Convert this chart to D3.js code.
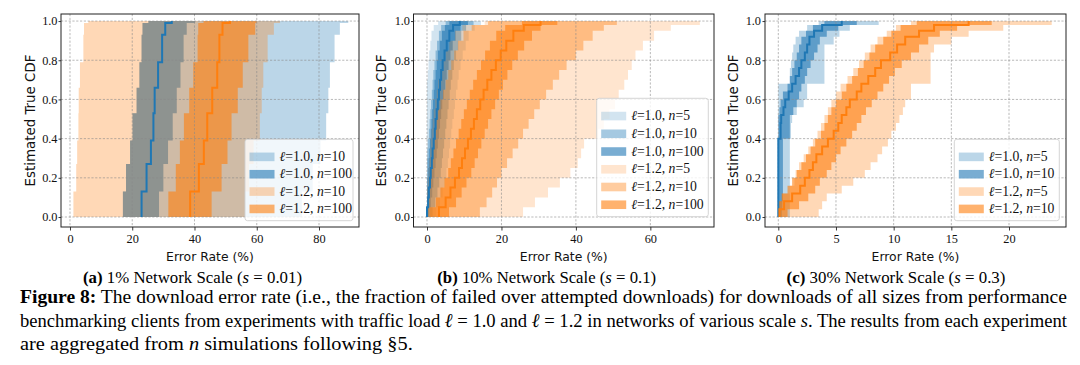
<!DOCTYPE html>
<html><head><meta charset="utf-8">
<script src="https://cdn.jsdelivr.net/npm/d3@7"></script>
<style>
body{margin:0;background:#fff;}
svg{display:block;}
</style></head><body>
<svg id="chart" width="1080" height="365"></svg>
<script>
// ================= DATA =================
const loads = ["1.0", "1.2"];
const xTicksA = [0, 20, 40, 60, 80];
const xTicksB = [0, 20, 40, 60];
const xTicksC = [0, 5, 10, 15, 20];
const yTicks = [0, 0.2, 0.4, 0.6, 0.8, 1.0];
const countsA = ["10", "100"];
const countsB = ["5", "10", "100"];
const countsC = ["5", "10"];

// ---- panel (a): 1% scale ----
const aLevels     = [0, 0.13, 0.27, 0.39, 0.53, 0.66, 0.79, 0.93, 0.99, 1.0];
const aBlue10Lo   = [17.0, 18.0, 19.3, 20.1, 21.4, 22.3, 23.0, 23.3, 25.2];
const aBlue10Hi   = [74.5, 78.0, 80.5, 82.3, 83.0, 83.5, 85.0, 86.7, 89.4];
const aBlue100Lo  = [17.0, 18.0, 19.3, 20.1, 21.4, 22.3, 23.0, 23.3, 25.2];
const aBlue100Hi  = [28.6, 30.0, 31.5, 33.0, 34.3, 35.5, 36.5, 37.5, 40.2];
const aBlueMid    = [23.0, 24.6, 26.0, 26.8, 27.2, 28.3, 29.6, 30.6, 32.7];
const aOrange10Lo = [1.1, 2.0, 2.3, 2.7, 2.8, 3.2, 4.3, 4.5, 5.9];
const aOrange10Hi = [56.2, 57.5, 59.0, 61.0, 61.6, 62.1, 63.5, 65.5, 67.5];
const aOrange100Lo= [31.6, 34.0, 35.3, 36.6, 38.3, 39.6, 41.0, 41.2, 42.9];
const aOrange100Hi= [45.5, 48.7, 50.6, 51.9, 53.9, 55.5, 57.3, 59.5, 60.0];
const aOrangeMid  = [38.6, 41.4, 43.0, 44.1, 45.7, 47.3, 48.0, 49.0, 51.4];

// ---- panel (b): 10% scale ----
const bLevels     = [0, 0.05, 0.1, 0.15, 0.2, 0.25, 0.3, 0.35, 0.4, 0.45, 0.5, 0.55, 0.6, 0.65, 0.7, 0.75, 0.8, 0.85, 0.9, 0.95, 0.98, 1.0];
const bBlue5Lo    = [0, 0, 0, 0, 0, 0, 0, 0, 0, 0, 0, 0, 0, 0, 0.2, 0.4, 0.6, 0.9, 1.2, 1.8, 3.0];
const bBlue5Hi    = [2.5, 3.5, 4.2, 4.8, 5.2, 5.6, 5.9, 6.2, 6.5, 6.8, 7.2, 7.5, 7.8, 8.2, 8.5, 9.0, 9.6, 10.4, 11.2, 12.8, 14.5];
const bBlue10Lo   = [0, 0, 0, 0, 0, 0, 0.1, 0.3, 0.5, 0.7, 0.9, 1.1, 1.3, 1.5, 1.7, 2.0, 2.3, 2.7, 3.2, 3.8, 5.0];
const bBlue10Hi   = [1.5, 2.2, 2.8, 3.3, 3.7, 4.0, 4.3, 4.6, 4.9, 5.2, 5.5, 5.8, 6.1, 6.4, 6.8, 7.2, 7.8, 8.4, 9.2, 10.5, 12.5];
const bBlue100Lo  = [0, 0, 0, 0.1, 0.3, 0.4, 0.6, 0.8, 1.0, 1.2, 1.4, 1.6, 1.8, 2.0, 2.3, 2.6, 2.9, 3.4, 4.0, 4.8, 6.0];
const bBlue100Hi  = [0.6, 1.0, 1.4, 1.7, 2.0, 2.3, 2.6, 2.9, 3.2, 3.5, 3.8, 4.1, 4.5, 4.9, 5.3, 5.8, 6.3, 6.9, 7.7, 9.0, 11.0];
const bBlueMid    = [0, 0.3, 0.5, 0.8, 1.0, 1.3, 1.5, 1.8, 2.1, 2.3, 2.6, 2.9, 3.2, 3.5, 3.8, 4.2, 4.7, 5.3, 6.0, 7.0, 8.8];
const bOrange5Lo  = [0, 0, 0, 0.2, 0.4, 0.6, 0.8, 1.0, 1.2, 1.5, 1.8, 2.2, 2.6, 3.0, 3.6, 4.2, 5.0, 6.0, 7.5, 9.5, 15.5];
const bOrange5Hi  = [25.8, 29.0, 32.5, 35.7, 38.5, 40.5, 41.4, 42.2, 46.0, 47.5, 49.0, 50.5, 51.5, 53.0, 54.0, 55.0, 56.0, 58.0, 61.0, 65.5, 73.3];
const bOrange10Lo = [0, 0.2, 0.4, 0.6, 0.8, 1.0, 1.3, 1.6, 2.0, 2.5, 3.0, 3.6, 4.3, 5.0, 5.7, 6.5, 7.3, 8.3, 9.8, 12.0, 16.4];
const bOrange10Hi = [14.2, 16.0, 17.5, 18.8, 20.0, 21.5, 23.0, 24.5, 25.8, 27.3, 28.8, 30.3, 32.0, 33.8, 35.5, 37.5, 40.0, 42.0, 44.5, 47.5, 51.0];
const bOrange100Lo= [0.7, 2.4, 3.6, 4.7, 5.7, 6.4, 7.1, 7.8, 8.5, 9.2, 9.9, 10.7, 11.5, 12.4, 13.4, 14.5, 15.6, 16.9, 18.6, 21.0, 25.5];
const bOrange100Hi= [5.9, 7.8, 9.3, 10.6, 11.9, 12.8, 13.7, 14.6, 15.5, 16.4, 17.3, 18.3, 19.3, 20.4, 21.6, 22.9, 24.4, 26.1, 28.2, 30.5, 35.0];
const bOrangeMid  = [3.2, 5.0, 6.3, 7.5, 8.6, 9.4, 10.2, 11.0, 11.8, 12.6, 13.4, 14.3, 15.2, 16.2, 17.3, 18.5, 19.8, 21.3, 23.2, 26.0, 30.5];

// ---- panel (c): 30% scale ----
const cLevels     = [0, 0.04, 0.08, 0.12, 0.16, 0.2, 0.24, 0.28, 0.32, 0.36, 0.4, 0.44, 0.48, 0.52, 0.56, 0.6, 0.64, 0.68, 0.72, 0.76, 0.8, 0.84, 0.88, 0.92, 0.95, 0.98, 1.0];
const cBlue5Lo    = [0, 0, 0, 0, 0, 0, 0, 0, 0, 0, 0, 0, 0, 0, 0, 0, 0, 1.0, 1.0, 1.1, 1.2, 1.3, 1.5, 1.8, 2.5, 3.5];
const cBlue5Hi    = [1.0, 1.0, 1.0, 1.0, 1.0, 1.0, 1.0, 1.0, 1.0, 1.0, 1.1, 1.1, 1.2, 1.6, 2.2, 2.5, 2.5, 4.0, 4.0, 4.0, 4.0, 4.0, 4.8, 5.3, 6.2, 8.7];
const cBlue10Lo   = [0, 0, 0, 0, 0, 0, 0, 0, 0, 0, 0, 0, 0, 0.1, 0.2, 0.4, 0.8, 1.0, 1.2, 1.4, 1.6, 1.8, 2.0, 2.4, 3.0, 4.0];
const cBlue10Hi   = [0.3, 0.35, 0.4, 0.4, 0.4, 0.4, 0.4, 0.4, 0.4, 0.4, 1.0, 1.0, 1.0, 1.3, 1.6, 1.8, 2.0, 2.3, 2.5, 2.8, 3.1, 3.4, 3.6, 4.2, 5.2, 6.8];
const cBlueMid    = [0, 0, 0, 0, 0, 0, 0, 0, 0, 0, 0.2, 0.2, 0.25, 0.45, 0.6, 0.9, 1.2, 1.5, 1.8, 2.0, 2.3, 2.5, 2.7, 3.1, 3.8, 5.5];
const cOrange5Lo  = [0, 0, 0.3, 1.0, 1.4, 1.5, 1.8, 2.2, 2.6, 3.0, 3.4, 3.7, 4.0, 4.3, 4.6, 5.0, 5.4, 6.0, 6.5, 7.0, 7.5, 8.0, 8.6, 9.4, 10.2, 11.5];
const cOrange5Hi  = [3.5, 3.8, 4.2, 5.5, 6.5, 7.5, 8.0, 8.6, 9.0, 9.5, 9.8, 10.2, 10.5, 10.8, 11.0, 11.5, 11.5, 13.2, 13.2, 13.2, 13.2, 13.5, 15.0, 16.5, 19.5, 23.7];
const cOrange10Lo = [0, 0, 0.3, 0.8, 1.2, 1.6, 2.0, 2.4, 2.8, 3.2, 3.7, 4.0, 4.3, 4.6, 5.0, 5.5, 5.9, 6.4, 6.9, 7.4, 7.9, 8.4, 9.1, 9.8, 10.6, 12.0];
const cOrange10Hi = [0.8, 1.8, 2.6, 3.2, 3.6, 4.2, 4.6, 5.0, 5.4, 5.9, 6.4, 6.8, 7.2, 7.6, 8.1, 8.6, 9.1, 9.6, 10.1, 10.7, 11.5, 12.2, 13.0, 14.0, 15.5, 18.5];
const cOrangeMid  = [0.1, 0.5, 1.2, 1.9, 2.3, 2.7, 3.0, 3.3, 3.8, 4.3, 4.8, 5.2, 5.5, 5.9, 6.2, 6.8, 7.2, 7.8, 8.4, 8.9, 9.7, 10.3, 11.0, 12.2, 13.5, 16.5];

// text
const subcaptions = [
  {tag: "(a)", pct: "1%", s: "0.01"},
  {tag: "(b)", pct: "10%", s: "0.1"},
  {tag: "(c)", pct: "30%", s: "0.3"}
];

// ================= DRAWING =================
const BLUE = "#1f77b4", ORANGE = "#ff7f0e";
const colors = [BLUE, ORANGE];
const SERIF = "Liberation Serif, Times New Roman, Times, DejaVu Serif, serif";
const SANS = "DejaVu Sans, sans-serif";
const svg = d3.select("#chart");

const panels = [
  {left: 61, right: 359, top: 14, bottom: 227, xdom: [-2.89, 92.85], xticks: xTicksA, levels: aLevels,
   bands: [
     {load: 0, n: countsA[0], lo: aBlue10Lo, hi: aBlue10Hi, alpha: 0.3},
     {load: 0, n: countsA[1], lo: aBlue100Lo, hi: aBlue100Hi, alpha: 0.6},
     {load: 1, n: countsA[0], lo: aOrange10Lo, hi: aOrange10Hi, alpha: 0.3},
     {load: 1, n: countsA[1], lo: aOrange100Lo, hi: aOrange100Hi, alpha: 0.6}],
   lines: [{load: 0, mid: aBlueMid}, {load: 1, mid: aOrangeMid}],
   legend: {x: 245, y: 139.3, w: 108, h: 81.4}, ylabX: 30, tickLabRight: 57.5, subX: 192.5},
  {left: 413.5, right: 714, top: 14, bottom: 227, xdom: [-3.63, 77.1], xticks: xTicksB, levels: bLevels,
   bands: [
     {load: 0, n: countsB[0], lo: bBlue5Lo, hi: bBlue5Hi, alpha: 0.2},
     {load: 0, n: countsB[1], lo: bBlue10Lo, hi: bBlue10Hi, alpha: 0.4},
     {load: 0, n: countsB[2], lo: bBlue100Lo, hi: bBlue100Hi, alpha: 0.6},
     {load: 1, n: countsB[0], lo: bOrange5Lo, hi: bOrange5Hi, alpha: 0.2},
     {load: 1, n: countsB[1], lo: bOrange10Lo, hi: bOrange10Hi, alpha: 0.4},
     {load: 1, n: countsB[2], lo: bOrange100Lo, hi: bOrange100Hi, alpha: 0.6}],
   lines: [{load: 0, mid: bBlueMid}, {load: 1, mid: bOrangeMid}],
   legend: {x: 596.7, y: 98.3, w: 111.6, h: 118.4}, ylabX: 381.7, tickLabRight: 410, subX: 546.7},
  {left: 765, right: 1066, top: 14, bottom: 227, xdom: [-1.153, 24.94], xticks: xTicksC, levels: cLevels,
   bands: [
     {load: 0, n: countsC[0], lo: cBlue5Lo, hi: cBlue5Hi, alpha: 0.3},
     {load: 0, n: countsC[1], lo: cBlue10Lo, hi: cBlue10Hi, alpha: 0.6},
     {load: 1, n: countsC[0], lo: cOrange5Lo, hi: cOrange5Hi, alpha: 0.3},
     {load: 1, n: countsC[1], lo: cOrange10Lo, hi: cOrange10Hi, alpha: 0.6}],
   lines: [{load: 0, mid: cBlueMid}, {load: 1, mid: cOrangeMid}],
   legend: {x: 954.3, y: 139.3, w: 105, h: 81.4}, ylabX: 733.3, tickLabRight: 761, subX: 896}
];

function stepBand(levels, lo, hi) {
  const pts = [];
  for (let i = 0; i < levels.length - 1; i++) {
    pts.push({c: levels[i], lo: lo[i], hi: hi[i]});
    pts.push({c: levels[i + 1], lo: lo[i], hi: hi[i]});
  }
  return pts;
}
function stepLine(levels, mid) {
  const pts = [];
  for (let i = 0; i < levels.length - 1; i++) {
    pts.push({c: levels[i], v: mid[i]});
    pts.push({c: levels[i + 1], v: mid[i]});
  }
  return pts;
}

function addLegendLabel(sel, load, n) {
  sel.append("tspan").attr("font-style", "italic").text("ℓ");
  sel.append("tspan").text("=" + load + ", ");
  sel.append("tspan").attr("font-style", "italic").text("n");
  sel.append("tspan").text("=" + n);
}

panels.forEach((p, pi) => {
  const g = svg.append("g");
  const x = d3.scaleLinear().domain(p.xdom).range([p.left, p.right]);
  const y = d3.scaleLinear().domain([-0.051, 1.036]).range([p.bottom, p.top]);
  const clipId = "clip" + pi;
  svg.append("clipPath").attr("id", clipId).append("rect")
    .attr("x", p.left).attr("y", p.top).attr("width", p.right - p.left).attr("height", p.bottom - p.top);

  const plot = g.append("g").attr("clip-path", `url(#${clipId})`);
  const area = d3.area().y(d => y(d.c)).x0(d => x(d.lo)).x1(d => x(d.hi));
  p.bands.forEach(b => {
    plot.append("path").attr("d", area(stepBand(p.levels, b.lo, b.hi)))
      .attr("fill", colors[b.load]).attr("fill-opacity", b.alpha).attr("stroke", "none");
  });

  // grid
  const grid = plot.append("g").attr("stroke", "#8a8a8a").attr("stroke-width", 0.6)
    .attr("stroke-dasharray", "2.2,1.6");
  p.xticks.forEach(t => grid.append("line").attr("x1", x(t)).attr("x2", x(t)).attr("y1", p.top).attr("y2", p.bottom));
  yTicks.forEach(t => grid.append("line").attr("x1", p.left).attr("x2", p.right).attr("y1", y(t)).attr("y2", y(t)));

  // lines
  const line = d3.line().x(d => x(d.v)).y(d => y(d.c));
  p.lines.forEach(l => {
    plot.append("path").attr("d", line(stepLine(p.levels, l.mid)))
      .attr("fill", "none").attr("stroke", colors[l.load]).attr("stroke-width", 2)
      .attr("stroke-linejoin", "miter");
  });

  // axes
  const xAxis = d3.axisBottom(x).tickValues(p.xticks).tickSize(3.5).tickPadding(4).tickFormat(d3.format("d"));
  const gx = g.append("g").attr("transform", `translate(0,${p.bottom})`).call(xAxis);
  const yAxis = d3.axisLeft(y).tickValues(yTicks).tickSize(2.5).tickPadding(Math.max(0.5, p.left - p.tickLabRight - 2.5)).tickFormat(d3.format(".1f"));
  const gy = g.append("g").attr("transform", `translate(${p.left},0)`).call(yAxis);
  [gx, gy].forEach(a => {
    a.select(".domain").remove();
    a.selectAll(".tick line").attr("stroke", "#222").attr("stroke-width", 0.9);
    a.selectAll(".tick text").attr("font-family", SERIF).attr("font-size", 12.3).attr("fill", "#111");
  });
  g.append("rect").attr("x", p.left).attr("y", p.top).attr("width", p.right - p.left).attr("height", p.bottom - p.top)
    .attr("fill", "none").attr("stroke", "#222").attr("stroke-width", 1);

  // axis labels
  const xl = g.append("text").attr("x", (p.left + p.right) / 2).attr("y", 261).attr("text-anchor", "middle")
    .attr("font-family", SANS).attr("font-size", 12.5).attr("fill", "#111").text("Error Rate (%)");
  xl.attr("font-size", 12.5 * 88 / xl.node().getComputedTextLength());
  const yl = g.append("text").attr("transform", `translate(${p.ylabX},${(p.top + p.bottom) / 2}) rotate(-90)`)
    .attr("text-anchor", "middle").attr("dy", "0.35em")
    .attr("font-family", SANS).attr("font-size", 12.5).attr("fill", "#111").text("Estimated True CDF");
  yl.attr("font-size", 12.5 * 132 / yl.node().getComputedTextLength());

  // legend
  const L = p.legend;
  const lg = g.append("g");
  lg.append("rect").attr("x", L.x).attr("y", L.y).attr("width", L.w).attr("height", L.h).attr("rx", 2.5)
    .attr("fill", "#fff").attr("fill-opacity", 0.8).attr("stroke", "#d0d0d0").attr("stroke-width", 0.9);
  const step = (L.h - 12) / p.bands.length;
  const probe = lg.append("text").attr("font-family", SERIF).attr("font-size", 12);
  addLegendLabel(probe, loads[0], "10");
  const lfs = 12 * 65.7 / probe.node().getComputedTextLength();
  probe.remove();
  p.bands.forEach((b, i) => {
    const cy = L.y + 9.2 + step * (i + 0.5) - 0.3;
    lg.append("rect").attr("x", L.x + 4.5).attr("y", cy - 4.3).attr("width", 25).attr("height", 8.6)
      .attr("fill", colors[b.load]).attr("fill-opacity", b.alpha);
    const t = lg.append("text").attr("x", L.x + 34.5).attr("y", cy + 4)
      .attr("font-family", SERIF).attr("font-size", lfs).attr("fill", "#111");
    addLegendLabel(t, loads[b.load], b.n);
  });

  // subcaption
  const sc = subcaptions[pi];
  const st = svg.append("text").attr("x", p.subX).attr("y", 282.5).attr("text-anchor", "middle")
    .attr("font-family", SERIF).attr("font-size", 15).attr("fill", "#000");
  st.append("tspan").attr("font-weight", "bold").text(sc.tag);
  st.append("tspan").text(" " + sc.pct + " Network Scale (");
  st.append("tspan").attr("font-style", "italic").text("s");
  st.append("tspan").text(" = " + sc.s + ")");
  st.attr("font-size", 15 * 219 / st.node().getComputedTextLength());
});

// caption
const capLines = [
  {y: 303, target: 1048, parts: [["Figure 8:", "bold"], [" The download error rate (i.e., the fraction of failed over attempted downloads) for downloads of all sizes from performance", ""]]},
  {y: 326.5, target: 1048, parts: [["benchmarking clients from experiments with traffic load ", ""], ["ℓ", "italic"], [" = 1.0 and ", ""], ["ℓ", "italic"], [" = 1.2 in networks of various scale ", ""], ["s", "italic"], [". The results from each experiment", ""]]},
  {y: 350, target: 393, parts: [["are aggregated from ", ""], ["n", "italic"], [" simulations following §5.", ""]]}
];
capLines.forEach(cl => {
  const t = svg.append("text").attr("x", 0).attr("y", 0).attr("font-family", SERIF).attr("font-size", 19.5).attr("fill", "#000");
  cl.parts.forEach(([s, st]) => {
    const ts = t.append("tspan").text(s);
    if (st === "bold") ts.attr("font-weight", "bold");
    if (st === "italic") ts.attr("font-style", "italic");
  });
  const w = t.node().getComputedTextLength();
  t.attr("transform", `translate(20,${cl.y}) scale(${cl.target / w},1)`);
});
</script>
</body></html>
